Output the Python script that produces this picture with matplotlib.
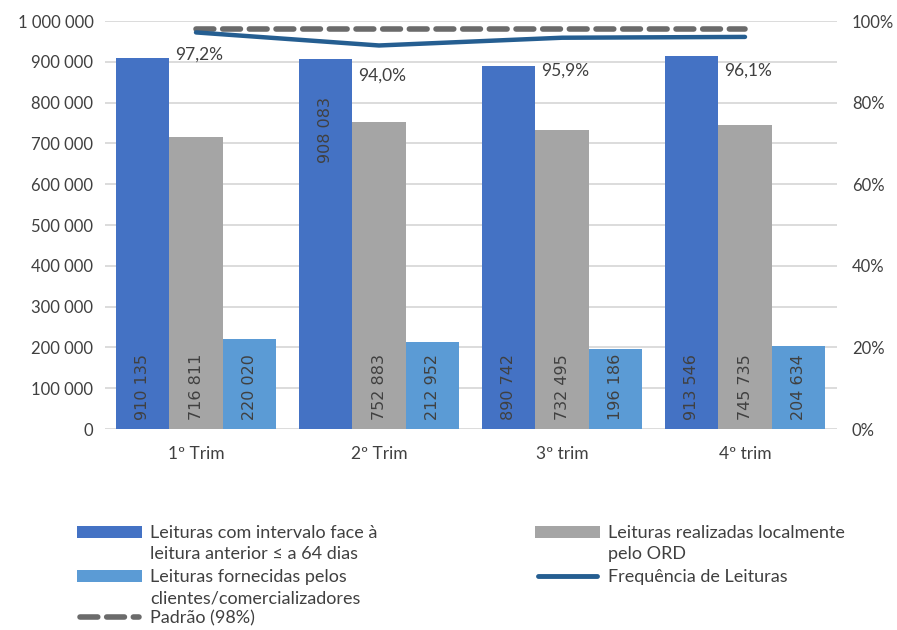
import matplotlib
matplotlib.use("Agg")
import matplotlib.pyplot as plt
from matplotlib.patches import Rectangle
from matplotlib.lines import Line2D
import numpy as np

plt.rcParams['font.family'] = ['Lato', 'DejaVu Sans']

categories = ["1º Trim", "2º Trim", "3º trim", "4º trim"]
leituras_intervalo = [910135, 908083, 890742, 913546]
leituras_ord = [716811, 752883, 732495, 745735]
leituras_clientes = [220020, 212952, 196186, 204634]
frequencia = [0.972, 0.940, 0.959, 0.961]
padrao = [0.98, 0.98, 0.98, 0.98]
freq_labels = ["97,2%", "94,0%", "95,9%", "96,1%"]
left_ticks = [0, 100000, 200000, 300000, 400000, 500000, 600000, 700000, 800000, 900000, 1000000]
right_ticks = [0, 0.2, 0.4, 0.6, 0.8, 1.0]

names = ["Leituras com intervalo face à\nleitura anterior ≤ a 64 dias",
         "Leituras realizadas localmente\npelo ORD",
         "Leituras fornecidas pelos\nclientes/comercializadores",
         "Frequência de Leituras",
         "Padrão (98%)"]

c_blue = "#4472C4"
c_gray = "#A5A5A5"
c_lblue = "#5B9BD5"
c_line = "#255E91"
c_dash = "#6B6B6B"
c_text = "#404040"

def fmt(v):
    return f"{v:,}".replace(",", " ")

fig = plt.figure(figsize=(8.97, 6.3), dpi=100)
ax = fig.add_axes([104.5/897, 201/630, 732/897, 408/630])
ax2 = ax.twinx()

x = np.arange(len(categories))
w = 0.29
series = [(leituras_intervalo, c_blue, -w), (leituras_ord, c_gray, 0), (leituras_clientes, c_lblue, w)]
for vals, col, off in series:
    ax.bar(x + off, vals, width=w, color=col, zorder=2)
    for i, v in enumerate(vals):
        if vals is leituras_intervalo and i == 1:
            ax.text(x[i] + off, v - 95000, fmt(v), rotation=90, ha='center', va='top',
                    fontsize=11.5, color=c_text, family='DejaVu Sans', zorder=3)
        else:
            ax.text(x[i] + off, 22000, fmt(v), rotation=90, ha='center', va='bottom',
                    fontsize=11.5, color=c_text, family='DejaVu Sans', zorder=3)

ax.set_xlim(-0.5, len(categories) - 0.5)
ax.set_ylim(0, 1000000)
ax.set_yticks(left_ticks)
ax.set_yticklabels([fmt(t) for t in left_ticks])
ax.yaxis.grid(True, color="#D9D9D9", linewidth=1.3, zorder=0)
ax.set_axisbelow(True)
ax.set_xticks(x)
ax.set_xticklabels(categories)
for s in ax.spines.values():
    s.set_visible(False)
for s in ax2.spines.values():
    s.set_visible(False)
ax.tick_params(axis='both', length=0, labelsize=12, colors=c_text, pad=8)
ax.tick_params(axis='x', pad=12, labelsize=12.5)

ax2.set_ylim(0, 1)
ax2.set_yticks(right_ticks)
ax2.set_yticklabels([f"{int(round(t*100))}%" for t in right_ticks])
ax2.tick_params(axis='y', length=0, labelsize=12, colors=c_text, pad=11)

ax2.plot(x, padrao, color=c_dash, linewidth=4, linestyle=(0, (3.2, 1.6)),
         dash_capstyle='round', zorder=4)
ax2.plot(x, frequencia, color=c_line, linewidth=3.2, solid_capstyle='round', zorder=5)

label_offsets = [-22, -30, -33, -34]
for i, (v, lab) in enumerate(zip(frequencia, freq_labels)):
    ax2.annotate(lab, (x[i], v), xytext=(2, label_offsets[i] * 0.72), textcoords='offset points',
                 ha='center', va='center', fontsize=12.5, color=c_text, zorder=6)

# manual legend (figure pixel coordinates)
def fx(px):
    return px / 897
def fy(py):
    return 1 - py / 630

legend_items = [
    ("patch", c_blue, names[0], 77, 532),
    ("patch", c_gray, names[1], 535, 532),
    ("patch", c_lblue, names[2], 77, 576),
    ("line", c_line, names[3], 535, 576),
    ("dash", c_dash, names[4], 77, 617),
]
for kind, col, lab, px, py in legend_items:
    if kind == "patch":
        fig.patches.append(Rectangle((fx(px), fy(py + 6)), 65/897, 12/630, transform=fig.transFigure,
                                     facecolor=col, edgecolor='none'))
    elif kind == "line":
        fig.lines.append(Line2D([fx(px + 3), fx(px + 62)], [fy(py), fy(py)], transform=fig.transFigure,
                                color=col, linewidth=3.5, solid_capstyle='round'))
    else:
        fig.lines.append(Line2D([fx(px + 3), fx(px + 62)], [fy(py), fy(py)], transform=fig.transFigure,
                                color=col, linewidth=4, linestyle=(0, (3.2, 1.6)), dash_capstyle='round'))
    fig.text(fx(px + 73), fy(py - 7), lab, ha='left', va='top', fontsize=13, color=c_text,
             linespacing=1.4)

fig.savefig("out.png", dpi=100)
